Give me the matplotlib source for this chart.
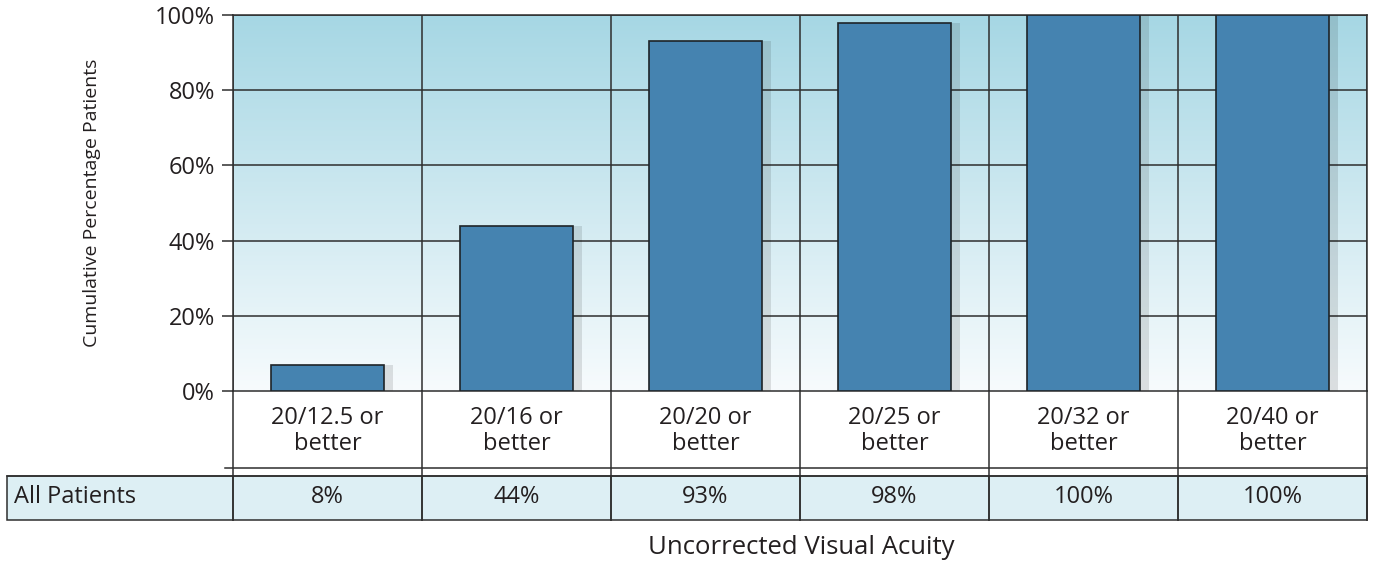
import numpy as np
import matplotlib
matplotlib.use("Agg")
import matplotlib.pyplot as plt
from matplotlib.patches import Rectangle
from matplotlib.lines import Line2D

categories = ["20/12.5 or\nbetter", "20/16 or\nbetter", "20/20 or\nbetter",
              "20/25 or\nbetter", "20/32 or\nbetter", "20/40 or\nbetter"]
bar_values = [7, 44, 93, 98, 100, 100]
table_labels = ["8%", "44%", "93%", "98%", "100%", "100%"]
row_label = "All Patients"
y_ticks = [0, 20, 40, 60, 80, 100]
y_tick_labels = ["0%", "20%", "40%", "60%", "80%", "100%"]
y_label = "Cumulative Percentage Patients"
x_label = "Uncorrected Visual Acuity"

plt.rcParams['font.family'] = ['Open Sans', 'DejaVu Sans']
W, H = 1373, 562
fig = plt.figure(figsize=(W / 100, H / 100), dpi=100)
TXT = "#231f20"
LINE = "#2e2e2e"

L, R, T, B = 233, 1367, 15, 391
ax = fig.add_axes([L / W, 1 - B / H, (R - L) / W, (B - T) / H])
n = len(categories)

grad = np.linspace(0, 1, 256).reshape(-1, 1)
top = np.array([166, 215, 228]) / 255
bot = np.array([247, 251, 253]) / 255
img = top[None, None, :] * (1 - grad[:, :, None]) + bot[None, None, :] * grad[:, :, None]
ax.imshow(img, extent=[-0.5, n - 0.5, 0, 100], origin="upper", aspect="auto", zorder=0)
ax.set_xlim(-0.5, n - 0.5)
ax.set_ylim(0, 100)

x = np.arange(n)
shadow_dx = 0.045
ax.bar(x + shadow_dx, bar_values, width=0.6, color="black", alpha=0.11, zorder=2, linewidth=0)
ax.bar(x, bar_values, width=0.6, color="#4583b0", edgecolor="#1e2428", linewidth=1.2, zorder=3)

ax.set_yticks(y_ticks)
ax.set_yticklabels(y_tick_labels, fontsize=17, color=TXT)
ax.tick_params(axis="y", length=8, width=1.1, color=LINE, pad=5)
ax.set_xticks([])
for yv in y_ticks[1:]:
    ax.axhline(yv, color=LINE, lw=1.1, zorder=1)
for b in np.arange(-0.5, n, 1.0):
    ax.axvline(b, color=LINE, lw=1.1, zorder=1)
for s in ax.spines.values():
    s.set_color(LINE)
    s.set_linewidth(1.1)

def fx(px):
    return px / W

def fy(py):
    return 1 - py / H

cw = (R - L) / n
for i, lab in enumerate(categories):
    cx = L + cw * (i + 0.5)
    fig.text(fx(cx), fy(431), lab, ha="center", va="center", fontsize=17,
             color=TXT, linespacing=1.12)

for i in range(n + 1):
    bx = L + cw * i
    fig.add_artist(Line2D([fx(bx), fx(bx)], [fy(391), fy(520)], color=LINE, lw=1.1))

fig.add_artist(Line2D([fx(225), fx(R)], [fy(468), fy(468)], color=LINE, lw=1.1))
fig.add_artist(Line2D([fx(7), fx(R)], [fy(476), fy(476)], color=LINE, lw=1.1))

fig.add_artist(Rectangle((fx(7), fy(520)), fx(R) - fx(7), fy(476) - fy(520),
                         facecolor="#ddeff4", edgecolor=LINE, lw=1.1, zorder=0))
for i in range(n + 1):
    bx = L + cw * i
    fig.add_artist(Line2D([fx(bx), fx(bx)], [fy(476), fy(520)], color=LINE, lw=1.1, zorder=2))
fig.text(fx(14), fy(497), row_label, ha="left", va="center", fontsize=17, color=TXT)
for i, lab in enumerate(table_labels):
    cx = L + cw * (i + 0.5)
    fig.text(fx(cx), fy(497), lab, ha="center", va="center", fontsize=17, color=TXT)

fig.text(fx(92), fy(203), y_label, rotation=90, ha="center", va="center",
         fontsize=14, color=TXT)
fig.text(fx(801), fy(547), x_label, ha="center", va="center", fontsize=18.5, color=TXT)

fig.savefig("out.png", dpi=100)
